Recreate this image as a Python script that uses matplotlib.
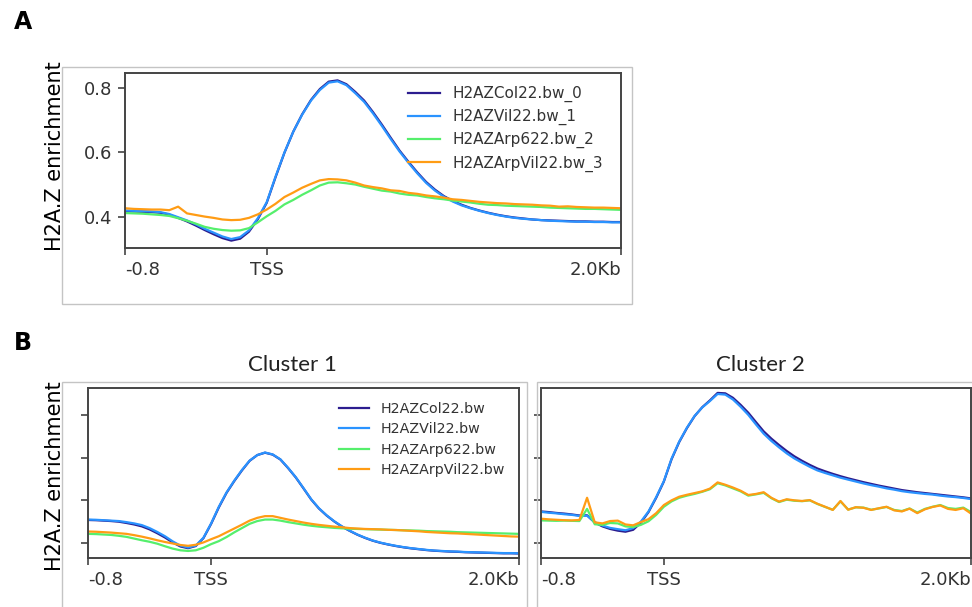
import numpy as np
import matplotlib
matplotlib.use("Agg")
import matplotlib.pyplot as plt
from matplotlib.patches import Rectangle

# positions relative to TSS (bp), one value every 50 bp
pos = np.arange(-800, 2001, 50)

# ---- panel A (all genes) ----
a_col = [0.417, 0.416, 0.415, 0.414, 0.412, 0.406, 0.396, 0.385, 0.372, 0.358, 0.345, 0.333, 0.325, 0.331, 0.353,
         0.392, 0.443, 0.523, 0.599, 0.665, 0.719, 0.764, 0.798, 0.821, 0.825, 0.813, 0.789, 0.762, 0.726, 0.687,
         0.646, 0.606, 0.571, 0.538, 0.508, 0.484, 0.464, 0.449, 0.437, 0.427, 0.419, 0.412, 0.406, 0.401, 0.397,
         0.394, 0.391, 0.389, 0.388, 0.387, 0.386, 0.385, 0.385, 0.384, 0.384, 0.383, 0.383]
a_vil = [0.419, 0.418, 0.417, 0.416, 0.414, 0.408, 0.398, 0.388, 0.376, 0.362, 0.350, 0.338, 0.330, 0.336, 0.357,
         0.395, 0.445, 0.525, 0.600, 0.665, 0.718, 0.762, 0.795, 0.818, 0.822, 0.810, 0.785, 0.758, 0.722, 0.683,
         0.642, 0.603, 0.568, 0.535, 0.505, 0.481, 0.462, 0.447, 0.435, 0.426, 0.418, 0.411, 0.405, 0.400, 0.396,
         0.393, 0.391, 0.389, 0.387, 0.386, 0.385, 0.384, 0.384, 0.383, 0.383, 0.382, 0.382]
a_arp = [0.411, 0.410, 0.409, 0.407, 0.405, 0.402, 0.395, 0.387, 0.378, 0.368, 0.362, 0.358, 0.356, 0.357, 0.364,
         0.382, 0.401, 0.418, 0.438, 0.452, 0.468, 0.482, 0.497, 0.506, 0.507, 0.504, 0.500, 0.493, 0.487, 0.481,
         0.478, 0.472, 0.468, 0.466, 0.461, 0.457, 0.454, 0.450, 0.447, 0.444, 0.440, 0.437, 0.436, 0.434, 0.433,
         0.432, 0.431, 0.430, 0.428, 0.427, 0.426, 0.425, 0.424, 0.424, 0.423, 0.422, 0.421]
a_arpvil = [0.426, 0.424, 0.423, 0.422, 0.422, 0.420, 0.431, 0.410, 0.405, 0.400, 0.396, 0.391, 0.389, 0.390, 0.396,
            0.407, 0.422, 0.440, 0.461, 0.475, 0.490, 0.502, 0.513, 0.517, 0.516, 0.513, 0.506, 0.497, 0.492, 0.488,
            0.482, 0.480, 0.474, 0.471, 0.466, 0.463, 0.459, 0.454, 0.452, 0.449, 0.446, 0.444, 0.442, 0.441, 0.439,
            0.438, 0.437, 0.435, 0.434, 0.431, 0.432, 0.430, 0.429, 0.428, 0.428, 0.427, 0.426]

# ---- panel B, cluster 1 ----
c1_col = [0.508, 0.507, 0.505, 0.503, 0.500, 0.494, 0.487, 0.478, 0.464, 0.446, 0.426, 0.403, 0.384, 0.376, 0.386,
          0.423, 0.490, 0.567, 0.635, 0.690, 0.740, 0.785, 0.812, 0.823, 0.814, 0.791, 0.751, 0.707, 0.656, 0.604,
          0.562, 0.529, 0.501, 0.477, 0.457, 0.439, 0.424, 0.411, 0.401, 0.393, 0.386, 0.380, 0.375, 0.371, 0.367,
          0.364, 0.362, 0.360, 0.359, 0.357, 0.356, 0.355, 0.354, 0.353, 0.352, 0.352, 0.351]
c1_vil = [0.510, 0.509, 0.507, 0.505, 0.503, 0.498, 0.492, 0.484, 0.470, 0.452, 0.432, 0.408, 0.388, 0.379, 0.388,
          0.425, 0.492, 0.570, 0.637, 0.692, 0.742, 0.786, 0.812, 0.824, 0.815, 0.792, 0.752, 0.708, 0.657, 0.605,
          0.563, 0.530, 0.502, 0.478, 0.458, 0.440, 0.425, 0.412, 0.402, 0.394, 0.387, 0.381, 0.376, 0.372, 0.368,
          0.365, 0.363, 0.361, 0.360, 0.358, 0.357, 0.356, 0.355, 0.354, 0.353, 0.353, 0.352]
c1_arp = [0.443, 0.442, 0.440, 0.438, 0.434, 0.429, 0.421, 0.413, 0.406, 0.397, 0.385, 0.374, 0.366, 0.363, 0.366,
          0.378, 0.395, 0.409, 0.428, 0.450, 0.470, 0.490, 0.503, 0.510, 0.510, 0.505, 0.498, 0.492, 0.486, 0.481,
          0.477, 0.474, 0.471, 0.469, 0.467, 0.466, 0.465, 0.464, 0.463, 0.462, 0.461, 0.460, 0.459, 0.458, 0.456,
          0.455, 0.454, 0.453, 0.451, 0.450, 0.449, 0.448, 0.447, 0.446, 0.445, 0.444, 0.443]
c1_arpvil = [0.454, 0.453, 0.451, 0.449, 0.446, 0.443, 0.437, 0.430, 0.422, 0.413, 0.405, 0.398, 0.391, 0.387, 0.392,
             0.403, 0.418, 0.432, 0.450, 0.468, 0.486, 0.505, 0.518, 0.526, 0.526, 0.518, 0.510, 0.503, 0.496, 0.490,
             0.485, 0.481, 0.477, 0.474, 0.470, 0.468, 0.466, 0.465, 0.464, 0.462, 0.461, 0.459, 0.457, 0.455, 0.452,
             0.450, 0.448, 0.446, 0.445, 0.443, 0.441, 0.439, 0.437, 0.435, 0.433, 0.431, 0.430]

# ---- panel B, cluster 2 ----
c2_col = [0.548, 0.545, 0.541, 0.538, 0.534, 0.529, 0.530, 0.496, 0.478, 0.466, 0.458, 0.453, 0.462, 0.495, 0.545,
          0.612, 0.688, 0.792, 0.873, 0.938, 0.994, 1.036, 1.068, 1.103, 1.101, 1.080, 1.047, 1.010, 0.966, 0.923,
          0.889, 0.859, 0.831, 0.806, 0.785, 0.766, 0.749, 0.736, 0.724, 0.713, 0.703, 0.694, 0.685, 0.677, 0.669,
          0.662, 0.655, 0.648, 0.643, 0.638, 0.634, 0.630, 0.626, 0.622, 0.618, 0.614, 0.609]
c2_vil = [0.546, 0.542, 0.539, 0.535, 0.532, 0.527, 0.528, 0.498, 0.482, 0.471, 0.465, 0.460, 0.470, 0.500, 0.548,
          0.615, 0.690, 0.795, 0.875, 0.940, 0.995, 1.035, 1.065, 1.098, 1.095, 1.072, 1.038, 1.000, 0.955, 0.912,
          0.878, 0.848, 0.820, 0.796, 0.776, 0.757, 0.740, 0.728, 0.717, 0.706, 0.697, 0.688, 0.679, 0.671, 0.664,
          0.656, 0.650, 0.643, 0.638, 0.634, 0.630, 0.627, 0.622, 0.618, 0.615, 0.611, 0.606]
c2_arp = [0.506, 0.505, 0.504, 0.505, 0.504, 0.503, 0.560, 0.488, 0.485, 0.494, 0.492, 0.478, 0.475, 0.485, 0.502,
          0.532, 0.570, 0.595, 0.612, 0.622, 0.630, 0.640, 0.652, 0.680, 0.670, 0.656, 0.642, 0.622, 0.628, 0.635,
          0.610, 0.592, 0.603, 0.598, 0.596, 0.600, 0.583, 0.569, 0.556, 0.595, 0.557, 0.567, 0.566, 0.556, 0.562,
          0.569, 0.555, 0.550, 0.562, 0.543, 0.560, 0.570, 0.578, 0.564, 0.560, 0.566, 0.545]
c2_arpvil = [0.514, 0.511, 0.509, 0.507, 0.506, 0.508, 0.612, 0.497, 0.492, 0.503, 0.505, 0.487, 0.483, 0.498, 0.512,
             0.540, 0.578, 0.600, 0.617, 0.626, 0.634, 0.642, 0.655, 0.684, 0.673, 0.660, 0.645, 0.625, 0.630, 0.638,
             0.612, 0.594, 0.605, 0.600, 0.597, 0.601, 0.584, 0.570, 0.555, 0.597, 0.556, 0.568, 0.565, 0.555, 0.563,
             0.570, 0.553, 0.548, 0.561, 0.540, 0.558, 0.569, 0.576, 0.560, 0.555, 0.563, 0.538]

labels_a = ['H2AZCol22.bw_0', 'H2AZVil22.bw_1', 'H2AZArp622.bw_2', 'H2AZArpVil22.bw_3']
labels_b = ['H2AZCol22.bw', 'H2AZVil22.bw', 'H2AZArp622.bw', 'H2AZArpVil22.bw']
colors = ['#2c1d8f', '#2a93ff', '#55ef6c', '#ff9c14']

xticks = [-800, 0, 2000]
xticklabels = ['-0.8', 'TSS', '2.0Kb']

W, H = 972, 607
fig = plt.figure(figsize=(W / 100, H / 100), dpi=100)


def px_rect(x0, y0, x1, y1):
    # convert pixel box (top-left origin) to figure fraction rect
    return [x0 / W, 1 - y1 / H, (x1 - x0) / W, (y1 - y0) / H]


def profile(rect, series, labels, ylim, yticks, ylabels, legend_anchor=None, legend_size=10.5):
    ax = fig.add_axes(rect)
    for vals, lab, c in zip(series, labels, colors):
        ax.plot(pos, vals, color=c, lw=1.6, label=lab)
    ax.set_xlim(-800, 2000)
    ax.set_ylim(*ylim)
    ax.set_xticks(xticks)
    ax.set_xticklabels(xticklabels)
    tl = ax.get_xticklabels()
    tl[0].set_ha('left')
    tl[-1].set_ha('right')
    ax.set_yticks(yticks)
    ax.set_yticklabels(ylabels)
    ax.tick_params(length=5, width=1.2, color='#444444', labelcolor='#333333', labelsize=13)
    ax.tick_params(axis='x', pad=4.5)
    ax.tick_params(axis='y', pad=4)
    for sp in ax.spines.values():
        sp.set_color('#444444')
        sp.set_linewidth(1.4)
    if legend_anchor is not None:
        leg = ax.legend(loc='upper left', bbox_to_anchor=legend_anchor, frameon=False,
                        fontsize=legend_size, borderpad=0, borderaxespad=0,
                        handlelength=2.1, handletextpad=0.8, labelspacing=0.45)
        for t in leg.get_texts():
            t.set_color('#333333')
    return ax


# light grey frames around each panel
for box in [(62, 67, 632, 304), (62, 382, 527, 640), (537, 382, 1000, 640)]:
    x0, y0, x1, y1 = box
    fig.add_artist(Rectangle((x0 / W, 1 - y1 / H), (x1 - x0) / W, (y1 - y0) / H,
                             transform=fig.transFigure, fill=False, ec='#c4c4c4', lw=1.0))

# panel A
profile(px_rect(125, 73, 621, 248), [a_col, a_vil, a_arp, a_arpvil], labels_a,
        (0.302, 0.848), [0.4, 0.6, 0.8], ['0.4', '0.6', '0.8'],
        legend_anchor=(0.571, 0.925), legend_size=11)

# panel B
profile(px_rect(88, 388, 519, 558), [c1_col, c1_vil, c1_arp, c1_arpvil], labels_b,
        (0.33, 1.126), [0.4, 0.6, 0.8, 1.0], ['', '', '', ''],
        legend_anchor=(0.582, 0.918), legend_size=10.3)
profile(px_rect(541, 388, 971, 558), [c2_col, c2_vil, c2_arp, c2_arpvil], labels_b,
        (0.33, 1.126), [0.4, 0.6, 0.8, 1.0], ['', '', '', ''])

# panel letters, axis labels and titles
fig.text(14 / W, 1 - 22 / H, 'A', fontsize=17, fontweight='bold', va='center', ha='left')
fig.text(14 / W, 1 - 343 / H, 'B', fontsize=17, fontweight='bold', va='center', ha='left')
fig.text(55 / W, 1 - 156 / H, 'H2A.Z enrichment', rotation=90, fontsize=15, va='center', ha='center')
fig.text(55 / W, 1 - 476 / H, 'H2A.Z enrichment', rotation=90, fontsize=15, va='center', ha='center')
fig.text(292 / W, 1 - 365 / H, 'Cluster 1', fontsize=16, family='Lato', color='#222222', va='center', ha='center')
fig.text(760 / W, 1 - 365 / H, 'Cluster 2', fontsize=16, family='Lato', color='#222222', va='center', ha='center')

fig.savefig('out.png', dpi=100)
